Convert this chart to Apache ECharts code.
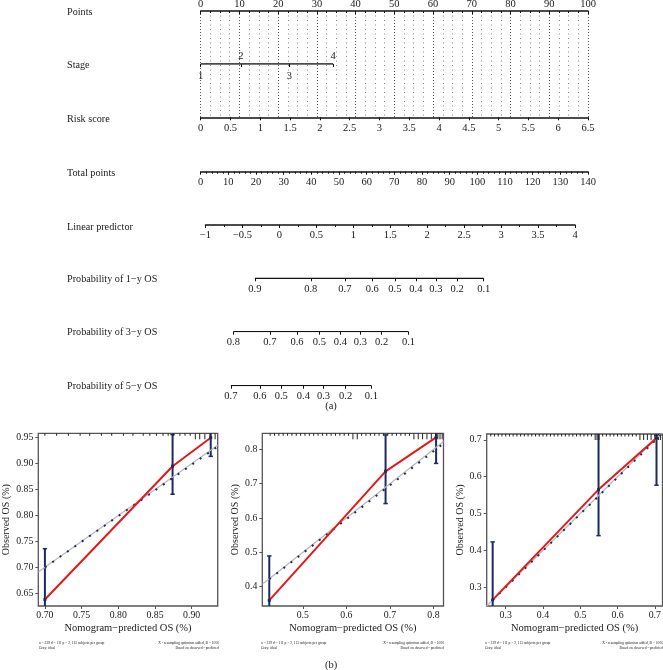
<!DOCTYPE html>
<html><head><meta charset="utf-8">
<script src="https://cdn.jsdelivr.net/npm/echarts@6/dist/echarts.min.js"></script>
<style>html,body{margin:0;padding:0;background:#fff}#c{width:663px;height:670px}</style>
</head><body><div id="c"></div>
<script>
// ---------------- Nomogram data ----------------
const rowLabels = ['Points','Stage','Risk score','Total points','Linear predictor','Probability of 1−y OS','Probability of 3−y OS','Probability of 5−y OS'];
const stageLevels = ['1','2','3','4'];
const stagePoints = [0, 10.4, 22.9, 34.2];              // points for each stage
const prob1yLabels = ['0.9','0.8','0.7','0.6','0.5','0.4','0.3','0.2','0.1'];
const prob1yPoints = [19.6, 39.8, 52.1, 62.0, 70.2, 77.8, 85.0, 92.7, 102.3]; // total points
const prob3yLabels = ['0.8','0.7','0.6','0.5','0.4','0.3','0.2','0.1'];
const prob3yPoints = [11.8, 25.0, 34.8, 42.9, 50.5, 57.7, 65.4, 75.1];
const prob5yLabels = ['0.7','0.6','0.5','0.4','0.3','0.2','0.1'];
const prob5yPoints = [10.9, 21.4, 29.1, 37.1, 44.4, 52.4, 61.7];

// ---------------- Calibration data ----------------
const cal1Pred = [0.700, 0.874, 0.926];
const cal1Obs  = [0.638, 0.895, 0.950];
const cal1Lo   = [0.600, 0.841, 0.914];
const cal1Hi   = [0.736, 0.956, 0.980];
const cal1Bias = [[0.700, 0.700], [0.9355, 0.933]];
const cal1Rug  = [0.700,0.716,0.732,0.748,0.761,0.777,0.791,0.807,0.820,0.834,0.843,0.852,0.861,0.868,0.875,0.884,0.891,0.898];
const cal1RugTall = [0.905,0.911,0.918,0.925,0.932];

const cal2Pred = [0.423, 0.690, 0.806];
const cal2Obs  = [0.360, 0.736, 0.835];
const cal2Lo   = [0.300, 0.642, 0.759];
const cal2Hi   = [0.4895, 0.842, 0.870];
const cal2Bias = [[0.423, 0.4215], [0.823, 0.817]];
const cal2Rug  = [0.425,0.435,0.445,0.455,0.465,0.475,0.485,0.495,0.505,0.515,0.525,0.535,0.545,0.555,0.565,0.575,0.585,0.595,0.605,0.635,0.645,0.655,0.665,0.675,0.685,0.695,0.705,0.715,0.725,0.735,0.745];
const cal2RugTall = [0.615,0.625,0.755,0.765,0.775,0.785,0.795,0.805,0.810,0.815,0.820];

const cal3Pred = [0.265, 0.549, 0.7045];
const cal3Obs  = [0.2655, 0.565, 0.705];
const cal3Lo   = [0.200, 0.440, 0.577];
const cal3Hi   = [0.423, 0.750, 0.712];
const cal3Bias = [[0.265, 0.265], [0.7206, 0.718]];
const cal3Rug  = [0.26,0.27,0.28,0.29,0.30,0.31,0.32,0.33,0.34,0.35,0.36,0.37,0.38,0.39,0.40,0.41,0.42,0.43,0.44,0.45,0.46,0.47,0.48,0.49,0.50,0.51,0.52,0.53,0.56,0.57,0.58,0.59,0.60,0.61,0.62,0.63,0.64,0.65];
const cal3RugTall = [0.54,0.545,0.55,0.66,0.67,0.68,0.69,0.70,0.705,0.71,0.715];

const cal1XTicks = [0.70,0.75,0.80,0.85,0.90];
const cal1YTicks = [0.65,0.70,0.75,0.80,0.85,0.90,0.95];
const cal2XTicks = [0.5,0.6,0.7,0.8];
const cal2YTicks = [0.4,0.5,0.6,0.7,0.8];
const cal3XTicks = [0.3,0.4,0.5,0.6,0.7];
const cal3YTicks = [0.3,0.4,0.5,0.6,0.7];

const noteLeft1  = 'n = 339 d = 111 p = 2, 113 subjects per group';
const noteLeft2  = 'Gray: ideal';
const noteRight1 = 'X - resampling optimism added, B = 1000';
const noteRight2 = 'Based on observed - predicted';

// ---------------- Styling helpers ----------------
const F = '"Liberation Serif","DejaVu Serif",serif';
const TXT = '#1a1a1a';
const BLK = '#111';
const NAVY = '#1c2b5f';
const RED = '#e3191c';
const NL = 200.7, NR = 663 - 588;

function lookup(pos, labels) {
  return function (v) {
    let best = 0, bd = 1e9;
    pos.forEach((p, i) => { const d = Math.abs(p - v); if (d < bd) { bd = d; best = i; } });
    return labels[best];
  };
}
const lbl = (extra) => Object.assign({ fontFamily: F, fontSize: 10.5, color: TXT }, extra || {});
const minusFmt = v => (v < 0 ? '−' + Math.abs(v) : String(v));

const grids = [
  { left: NL, right: NR, top: 11, height: 106.3 },      // 0 points / risk score
  { left: NL, right: NR, top: 63, height: 1 },          // 1 stage
  { left: NL, right: NR, top: 170.7, height: 1 },       // 2 total points
  { left: 205.5, right: 663 - 575, top: 224, height: 1 }, // 3 linear predictor
  { left: NL, right: NR, top: 277.3, height: 1 },       // 4 prob 1y
  { left: NL, right: NR, top: 330.7, height: 1 },       // 5 prob 3y
  { left: NL, right: NR, top: 384.7, height: 1 },       // 6 prob 5y
  { left: 38.3, right: 663 - 217.7, top: 433.3, bottom: 64, show: true, borderColor: '#555', borderWidth: 1.3 }, // 7
  { left: 262.3, right: 663 - 443.5, top: 433.3, bottom: 64, show: true, borderColor: '#555', borderWidth: 1.3 }, // 8
  { left: 486.7, right: 0.5, top: 434, bottom: 64, show: true, borderColor: '#555', borderWidth: 1.3 } // 9
].map(g => Object.assign({ containLabel: false, outerBoundsMode: 'none' }, g));

const lineAx = { onZero: false, lineStyle: { color: BLK, width: 1.5 } };
const tickSt = { color: BLK, width: 1 };

function probAxis(grid, pos, labels) {
  return {
    gridIndex: grid, type: 'value', min: 0, max: 140, position: 'bottom',
    axisLine: { show: false, onZero: false },
    axisTick: { show: true, customValues: pos, length: 3, lineStyle: tickSt },
    axisLabel: lbl({ customValues: pos, formatter: lookup(pos, labels), margin: 5 }),
    splitLine: { show: false }
  };
}
function calX(grid, min, max, ticks, dec) {
  return {
    gridIndex: grid, type: 'value', min, max, position: 'bottom',
    axisLine: { show: false, onZero: false }, splitLine: { show: false },
    axisTick: { show: true, customValues: ticks, length: 3, lineStyle: { color: '#555' } },
    axisLabel: lbl({ customValues: ticks, formatter: v => v.toFixed(dec), margin: 4, fontSize: 9.8 }),
    name: 'Nomogram−predicted OS (%)', nameLocation: 'middle', nameGap: 17,
    nameTextStyle: { fontFamily: F, fontSize: 10.5, color: TXT }
  };
}
function calY(grid, min, max, ticks, dec, gap) {
  return {
    gridIndex: grid, type: 'value', min, max, position: 'left',
    axisLine: { show: false, onZero: false }, splitLine: { show: false },
    axisTick: { show: true, customValues: ticks, length: 3, lineStyle: { color: '#555' } },
    axisLabel: lbl({ customValues: ticks, formatter: v => v.toFixed(dec), margin: 5, fontSize: 9.8 }),
    name: 'Observed OS (%)', nameLocation: 'middle', nameGap: gap,
    nameTextStyle: { fontFamily: F, fontSize: 10, color: TXT }
  };
}

const xAxes = [
  { // 0 Points
    gridIndex: 0, type: 'value', position: 'top', min: 0, max: 100, interval: 10,
    axisLine: lineAx,
    axisTick: { show: true, inside: true, length: 3, lineStyle: tickSt },
    minorTick: { show: true, splitNumber: 4, length: 2, lineStyle: tickSt },
    axisLabel: lbl({ margin: 1 }),
    splitLine: { show: true, lineStyle: { color: '#555', width: 1, type: [1, 2] } },
    minorSplitLine: { show: true, lineStyle: { color: '#8a8a8a', width: 1, type: [1, 3.5] } }
  },
  { // 1 Risk score
    gridIndex: 0, type: 'value', position: 'bottom', min: 0, max: 6.5, interval: 0.5,
    axisLine: lineAx, axisTick: { show: true, length: 3, lineStyle: tickSt },
    axisLabel: lbl({ margin: 5 }), splitLine: { show: false }
  },
  { // 2 Stage (bottom: labels 1,3 + ticks)
    gridIndex: 1, type: 'value', position: 'bottom', min: 0, max: 100,
    axisLine: { show: false, onZero: false },
    axisTick: { show: true, customValues: stagePoints, length: 3, lineStyle: tickSt },
    axisLabel: lbl({ customValues: stagePoints.filter((_, i) => i % 2 === 0), formatter: lookup(stagePoints, stageLevels), margin: 6.5 }),
    splitLine: { show: false }
  },
  { // 3 Stage (top: labels 2,4)
    gridIndex: 1, type: 'value', position: 'top', min: 0, max: 100,
    axisLine: { show: false, onZero: false }, axisTick: { show: false },
    axisLabel: lbl({ customValues: stagePoints.filter((_, i) => i % 2 === 1), formatter: lookup(stagePoints, stageLevels), margin: 1 }),
    splitLine: { show: false }
  },
  { // 4 Total points
    gridIndex: 2, type: 'value', position: 'bottom', min: 0, max: 140, interval: 10,
    axisLine: lineAx, axisTick: { show: true, length: 3, lineStyle: tickSt },
    minorTick: { show: true, splitNumber: 5, length: 2, lineStyle: tickSt },
    axisLabel: lbl({ margin: 5 }), splitLine: { show: false }
  },
  { // 5 Linear predictor
    gridIndex: 3, type: 'value', position: 'bottom', min: -1, max: 4, interval: 0.5,
    axisLine: lineAx, axisTick: { show: true, length: 3, lineStyle: tickSt },
    minorTick: { show: true, splitNumber: 2, length: 2, lineStyle: tickSt },
    axisLabel: lbl({ margin: 5, formatter: minusFmt }), splitLine: { show: false }
  },
  probAxis(4, prob1yPoints, prob1yLabels), // 6
  probAxis(5, prob3yPoints, prob3yLabels), // 7
  probAxis(6, prob5yPoints, prob5yLabels), // 8
  calX(7, 0.691, 0.9355, cal1XTicks, 2),   // 9
  calX(8, 0.407, 0.823, cal2XTicks, 1),    // 10
  calX(9, 0.249, 0.7206, cal3XTicks, 1)    // 11
];

const yAxes = [];
for (let g = 0; g < 7; g++) yAxes.push({ gridIndex: g, type: 'value', min: 0, max: 1, show: false });
yAxes.push(calY(7, 0.6255, 0.9585, cal1YTicks, 2, 27));
yAxes.push(calY(8, 0.3437, 0.8467, cal2YTicks, 1, 22));
yAxes.push(calY(9, 0.249, 0.716, cal3YTicks, 1, 20));

const series = [];
function segLine(xi, yi, pts, style) {
  series.push({ type: 'line', xAxisIndex: xi, yAxisIndex: yi, data: pts, symbol: 'none', silent: true,
    lineStyle: style, clip: true, animation: false });
}
// nomogram segments
segLine(2, 1, stagePoints.map(p => [p, 0]), { color: BLK, width: 1.6 });
segLine(6, 4, [[prob1yPoints[0], 0], [prob1yPoints[prob1yPoints.length - 1], 0]], { color: BLK, width: 1.3 });
segLine(7, 5, [[prob3yPoints[0], 0], [prob3yPoints[prob3yPoints.length - 1], 0]], { color: BLK, width: 1.3 });
segLine(8, 6, [[prob5yPoints[0], 0], [prob5yPoints[prob5yPoints.length - 1], 0]], { color: BLK, width: 1.3 });

function calSeries(xi, yi, xr, pred, obs, lo, hi, bias, rug, rugTall) {
  // ideal
  segLine(xi, yi, [[xr[0], xr[0]], [xr[1], xr[1]]], { color: '#b8b8b8', width: 1.2 });
  // blue dotted
  segLine(xi, yi, bias, { color: NAVY, width: 2, type: [2, 7] });
  // error bars
  series.push({
    type: 'custom', xAxisIndex: xi, yAxisIndex: yi, silent: true, animation: false,
    data: pred.map((p, i) => [p, lo[i], hi[i]]),
    renderItem(params, api) {
      const x = api.value(0);
      const pLo = api.coord([x, api.value(1)]);
      const pHi = api.coord([x, api.value(2)]);
      const cs = params.coordSys;
      const top = cs.y, bot = cs.y + cs.height;
      const yLo = Math.min(pLo[1], bot), yHi = Math.max(pHi[1], top);
      const st = { stroke: NAVY, lineWidth: 2 };
      const ch = [{ type: 'line', shape: { x1: pLo[0], y1: yLo, x2: pLo[0], y2: yHi }, style: st }];
      if (pLo[1] <= bot) ch.push({ type: 'line', shape: { x1: pLo[0] - 2.2, y1: yLo, x2: pLo[0] + 2.2, y2: yLo }, style: { stroke: NAVY, lineWidth: 1.5 } });
      if (pHi[1] >= top) ch.push({ type: 'line', shape: { x1: pHi[0] - 2.2, y1: yHi, x2: pHi[0] + 2.2, y2: yHi }, style: { stroke: NAVY, lineWidth: 1.5 } });
      return { type: 'group', children: ch };
    }
  });
  // red observed line
  series.push({ type: 'line', xAxisIndex: xi, yAxisIndex: yi, silent: true, animation: false, clip: true,
    data: pred.map((p, i) => [p, obs[i]]), symbol: 'rect', symbolSize: 3, showSymbol: true,
    itemStyle: { color: NAVY }, lineStyle: { color: RED, width: 2 } });
  // rug
  const rugData = rug.map(v => [v, 2.5]).concat(rugTall.map(v => [v, 6]));
  series.push({
    type: 'custom', xAxisIndex: xi, yAxisIndex: yi, silent: true, animation: false,
    data: rugData,
    renderItem(params, api) {
      const cs = params.coordSys;
      const x = api.coord([api.value(0), xr[0]])[0];
      return { type: 'line', shape: { x1: x, y1: cs.y, x2: x, y2: cs.y + api.value(1) }, style: { stroke: '#222', lineWidth: 1 } };
    }
  });
}
calSeries(9, 7, [0.691, 0.9355], cal1Pred, cal1Obs, cal1Lo, cal1Hi, cal1Bias, cal1Rug, cal1RugTall);
calSeries(10, 8, [0.407, 0.823], cal2Pred, cal2Obs, cal2Lo, cal2Hi, cal2Bias, cal2Rug, cal2RugTall);
calSeries(11, 9, [0.249, 0.7206], cal3Pred, cal3Obs, cal3Lo, cal3Hi, cal3Bias, cal3Rug, cal3RugTall);

// ---------------- Text graphics ----------------
function txt(s, x, y, size, align) {
  return { type: 'text', x, y, silent: true,
    style: { text: s, font: size + 'px ' + F, fill: TXT, align: align || 'left', verticalAlign: 'middle',
      textAlign: align || 'left', textVerticalAlign: 'middle' } };
}
const rowY = [12.5, 65.5, 119, 173.3, 227, 279, 332.5, 386];
const graphics = rowLabels.map((s, i) => txt(s, 67, rowY[i], 10.2));
graphics.push(txt('(a)', 331, 406, 10.5, 'center'));
graphics.push(txt('(b)', 331, 665, 10.5, 'center'));
const noteL = [39, 261, 485], noteR = [219, 444, 663];
for (let k = 0; k < 3; k++) {
  graphics.push(txt(noteLeft1, noteL[k], 643, 3.6));
  graphics.push(txt(noteLeft2, noteL[k], 648.5, 3.6));
  graphics.push(txt(noteRight1, noteR[k], 643, 3.6, 'right'));
  graphics.push(txt(noteRight2, noteR[k], 648.5, 3.6, 'right'));
}

const chart = echarts.init(document.getElementById('c'), null, { renderer: 'canvas' });
chart.setOption({
  animation: false,
  backgroundColor: '#fff',
  textStyle: { fontFamily: F },
  grid: grids,
  xAxis: xAxes,
  yAxis: yAxes,
  series: series,
  graphic: { elements: graphics }
});
</script>
</body></html>
